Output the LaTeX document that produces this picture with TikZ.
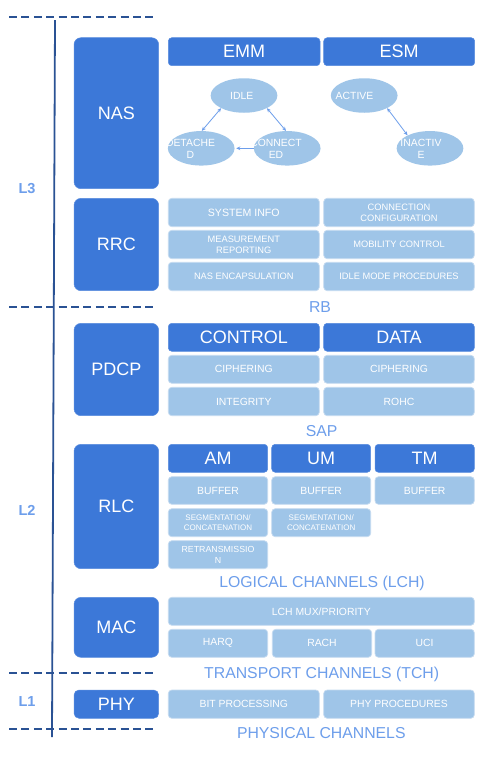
\documentclass[tikz,border=0pt]{standalone}
\usepackage{fontspec}
\setmainfont{Liberation Sans}
\usetikzlibrary{shapes.geometric,arrows.meta}
\definecolor{dkb}{HTML}{3C78D8}
\definecolor{ltb}{HTML}{9FC5E8}
\definecolor{ltbord}{HTML}{C6DBF0}
\definecolor{lbl}{HTML}{6D9EEB}
\definecolor{lne}{HTML}{2A5294}
\newcommand\fs[2]{\fontsize{#1}{#2}\selectfont}
\newcommand\boxat[7]{\node[#2, minimum width={(#5-#3)*1pt}, minimum height={(#6-#4)*1pt}] (#1) at ({(#3+#5)/2},{(#4+#6)/2}) {#7};}
\begin{document}
\begin{tikzpicture}[x=1pt,y=-1pt,
 sidebox/.style={fill=dkb, draw=dkb!85!white, line width=0.5pt, rounded corners=7pt, text=white, font=\fs{18}{20}, inner sep=0},
 head/.style={fill=dkb, draw=dkb!85!white, line width=0.5pt, rounded corners=3.5pt, text=white, font=\fs{18}{20}, inner sep=0},
 cell/.style={fill=ltb, draw=ltbord, line width=0.7pt, rounded corners=3.5pt, text=white, font=\fs{10.4}{12}, inner sep=0, align=center},
 stt/.style={ellipse, fill=ltb, inner sep=0, minimum width=66.7pt, minimum height=34.5pt},
 sttext/.style={text=white, font=\fs{10.4}{11.8}, align=center, inner sep=0},
 chan/.style={text=lbl, font=\fs{15.8}{18}, inner sep=0},
 lay/.style={text=lbl, font=\bfseries\fs{14.5}{16}, inner sep=0},
 dashrule/.style={lne, line width=2pt, dash pattern=on 8pt off 4.4pt},
 biarrow/.style={lbl, line width=0.8pt, {Stealth[length=4pt,width=3.6pt]}-{Stealth[length=4pt,width=3.6pt]}},
 onearrow/.style={lbl, line width=0.8pt, -{Stealth[length=4pt,width=3.6pt]}}
]
\fill[white] (0,0) rectangle (495,761);
\useasboundingbox (0,0) rectangle (495,761);

% layer rules
\coordinate (d1a) at (9,16.7);  \coordinate (d1b) at (157,16.7);
\coordinate (d2a) at (9,306.7); \coordinate (d2b) at (157,306.7);
\coordinate (d3a) at (9,673.3); \coordinate (d3b) at (157,673.3);
\coordinate (d4a) at (9,729.3); \coordinate (d4b) at (157,729.3);
\coordinate (va) at (55,20);    \coordinate (vb) at (52,737);
\draw[dashrule] (d1a) -- (d1b);
\draw[dashrule] (d2a) -- (d2b);
\draw[dashrule] (d3a) -- (d3b);
\draw[dashrule] (d4a) -- (d4b);
\draw[lne, line width=1.8pt] (va) -- (vb);

\node[lay] (l3) at (27,189) {L3};
\node[lay] (l2) at (27,510) {L2};
\node[lay] (l1) at (27,702) {L1};

% NAS
\boxat{nas}{sidebox}{74}{37.7}{158.7}{188.7}{NAS}
\boxat{emm}{head}{168.3}{37.7}{320}{65.7}{EMM}
\boxat{esm}{head}{323.7}{37.7}{474.7}{65.7}{ESM}
\node[stt] (idle) at (244,95.5) {};
\node[stt] (active) at (364.2,95.5) {};
\node[stt] (detached) at (201.2,148.3) {};
\node[stt] (connected) at (287.2,148.3) {};
\node[stt] (inactive) at (430,148.3) {};
\node[sttext] (idlet) at (241.7,95.7) {IDLE};
\node[sttext] (activet) at (354.5,95.7) {ACTIVE};
\node[sttext] (detachedt) at (190.5,148.8) {DETACHE\\D};
\node[sttext] (connectedt) at (276,148.8) {CONNECT\\ED};
\node[sttext] (inactivet) at (421,148.7) {INACTIV\\E};
\draw[biarrow] (idle.209) -- (detached.88);
\draw[biarrow] (idle.331) -- (connected.94);
\draw[onearrow, shorten >=1.5pt] (connected.180) -- (detached.0);
\draw[biarrow] (active.331) -- (inactive.150);

% RRC
\boxat{rrc}{sidebox}{74}{198.3}{158.7}{290.7}{RRC}
\boxat{sysinfo}{cell,font=\fs{10.6}{12}}{168.3}{198.3}{319.3}{226.7}{SYSTEM INFO}
\boxat{conncfg}{cell,font=\fs{9.3}{10.8}}{323.7}{198.3}{474.3}{226.7}{CONNECTION\\CONFIGURATION}
\boxat{measrep}{cell,font=\fs{9.3}{10.8}}{168.3}{230.3}{319.3}{258.7}{MEASUREMENT\\REPORTING}
\boxat{mobctl}{cell,font=\fs{9.3}{10.8}}{323.7}{230.3}{474.3}{258.7}{MOBILITY CONTROL}
\boxat{nasenc}{cell,font=\fs{9.3}{10.8}}{168.3}{262.3}{319.3}{290.7}{NAS ENCAPSULATION}
\boxat{idleproc}{cell,font=\fs{9.3}{10.8}}{323.7}{262.3}{474.3}{290.7}{IDLE MODE PROCEDURES}
\node[chan] (rb) at (320,307.3) {RB};

% PDCP
\boxat{pdcp}{sidebox}{74}{323.3}{158.7}{415.7}{PDCP}
\boxat{control}{head}{168.3}{323.3}{319.3}{351.3}{CONTROL}
\boxat{data}{head}{323.7}{323.3}{474.3}{351.3}{DATA}
\boxat{ciphc}{cell}{168.3}{355.3}{319.3}{383.3}{CIPHERING}
\boxat{ciphd}{cell}{323.7}{355.3}{474.3}{383.3}{CIPHERING}
\boxat{integ}{cell}{168.3}{387.3}{319.3}{415.7}{INTEGRITY}
\boxat{rohc}{cell}{323.7}{387.3}{474.3}{415.7}{ROHC}
\node[chan] (sap) at (321.7,430.7) {SAP};

% RLC
\boxat{rlc}{sidebox}{74}{444.3}{158.7}{568.7}{RLC}
\boxat{am}{head}{168.3}{444.3}{267.7}{472.3}{AM}
\boxat{um}{head}{271.7}{444.3}{370.7}{472.3}{UM}
\boxat{tm}{head}{375}{444.3}{474.3}{472.3}{TM}
\boxat{bufam}{cell}{168.3}{476.7}{267.7}{504.3}{BUFFER}
\boxat{bufum}{cell}{271.7}{476.7}{370.7}{504.3}{BUFFER}
\boxat{buftm}{cell}{375}{476.7}{474.3}{504.3}{BUFFER}
\boxat{segam}{cell,font=\fs{8}{10}}{168.3}{508.7}{267.7}{536.7}{SEGMENTATION/\\CONCATENATION}
\boxat{segum}{cell,font=\fs{8}{10}}{271.7}{508.7}{370.7}{536.7}{SEGMENTATION/\\CONCATENATION}
\boxat{retx}{cell,font=\fs{8.8}{11.4}}{168.3}{540.7}{267.7}{568.7}{RETRANSMISSIO\\N}
\node[chan] (lch) at (322,583.3) {LOGICAL CHANNELS (LCH)};

% MAC
\boxat{mac}{sidebox}{74}{597.3}{158.7}{657.3}{MAC}
\boxat{mux}{cell}{168.3}{597.3}{474.3}{625.3}{LCH MUX/PRIORITY}
\boxat{harq}{cell}{168.3}{629.3}{267.7}{657.3}{HARQ}
\boxat{rach}{cell}{272.3}{629.3}{371.7}{657.3}{RACH}
\boxat{uci}{cell}{375}{629.3}{474.3}{657.3}{UCI}
\node[chan] (tch) at (321.7,674.3) {TRANSPORT CHANNELS (TCH)};

% PHY
\boxat{phy}{sidebox,rounded corners=5pt}{74}{690}{158.7}{718.3}{PHY}
\boxat{bitproc}{cell}{168.3}{690}{319.3}{718.3}{BIT PROCESSING}
\boxat{phyproc}{cell}{323.7}{690}{474.3}{718.3}{PHY PROCEDURES}
\node[chan] (phych) at (321.3,732.7) {PHYSICAL CHANNELS};
\end{tikzpicture}
\end{document}
